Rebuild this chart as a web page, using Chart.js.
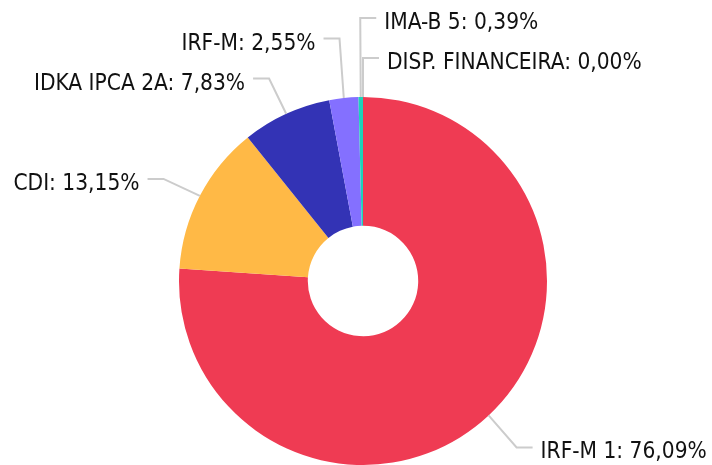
<!DOCTYPE html>
<html>
  <head>
    <title>Carteira</title>
    <script src="https://cdn.jsdelivr.net/npm/chart.js"></script>
    <style>
      body {
        margin: 0;
        background: #fff;
      }
      .box {
        width: 712px;
        height: 465px;
      }
    </style>
  </head>
  <body>
    <div class="box"><canvas id="myChart"></canvas></div>

    <script>
      const labels = [
        "IRF-M 1",
        "CDI",
        "IDKA IPCA 2A",
        "IRF-M",
        "IMA-B 5",
        "DISP. FINANCEIRA",
      ];
      const values = [76.09, 13.15, 7.83, 2.55, 0.39, 0.0];
      const colors = ["#EF3B53", "#FFB946", "#3333B5", "#8470FF", "#1DD3B9", "#2F9BE0"];

      const fmt = (v) => v.toFixed(2).replace(".", ",") + "%";

      // labels outside the ring with elbow lines
      const outLabels = {
        id: "outLabels",
        afterDatasetsDraw(chart) {
          const ctx = chart.ctx;
          const arcs = chart.getDatasetMeta(0).data;
          const gap = 40;
          const items = arcs.map((arc, i) => {
            const a = (arc.startAngle + arc.endAngle) / 2;
            const r = arc.outerRadius;
            const x0 = arc.x + Math.cos(a) * r;
            const y0 = arc.y + Math.sin(a) * r;
            const x1 = arc.x + Math.cos(a) * (r + 41);
            const y1 = arc.y + Math.sin(a) * (r + 41) + 2;
            return { i, x0, y0, x1, y1, y: y1, right: x1 >= arc.x - 6 };
          });
          [true, false].forEach((side) => {
            const list = items
              .filter((d) => d.right === side)
              .sort((p, q) => (Math.abs(p.y1 - q.y1) < 5 ? p.i - q.i : p.y1 - q.y1));
            for (let k = list.length - 2; k >= 0; k--) {
              if (list[k].y > list[k + 1].y - gap) list[k].y = list[k + 1].y - gap;
            }
          });
          ctx.save();
          ctx.strokeStyle = "#cccccc";
          ctx.lineWidth = 2;
          ctx.fillStyle = "#111111";
          ctx.font = "22.5px 'DejaVu Sans Condensed'";
          ctx.textBaseline = "alphabetic";
          items.forEach((d) => {
            const dir = d.right ? 1 : -1;
            const x2 = d.x1 + dir * 16;
            ctx.beginPath();
            ctx.moveTo(d.x0, d.y0);
            ctx.lineTo(d.x1, d.y);
            ctx.lineTo(x2, d.y);
            ctx.stroke();
            ctx.textAlign = d.right ? "left" : "right";
            ctx.fillText(labels[d.i] + ": " + fmt(values[d.i]), x2 + dir * 8, d.y + 11);
          });
          ctx.restore();
        },
      };

      const config = {
        type: "doughnut",
        data: {
          labels: labels,
          datasets: [
            {
              data: values,
              backgroundColor: colors,
              borderWidth: 0,
            },
          ],
        },
        options: {
          responsive: true,
          maintainAspectRatio: false,
          animation: false,
          cutout: "30%",
          layout: {
            padding: { top: 97, bottom: 0, left: 179, right: 165 },
          },
          plugins: {
            legend: { display: false },
            tooltip: { enabled: false },
          },
        },
        plugins: [outLabels],
      };

      const myChart = new Chart(document.getElementById("myChart"), config);
    </script>
  </body>
</html>
